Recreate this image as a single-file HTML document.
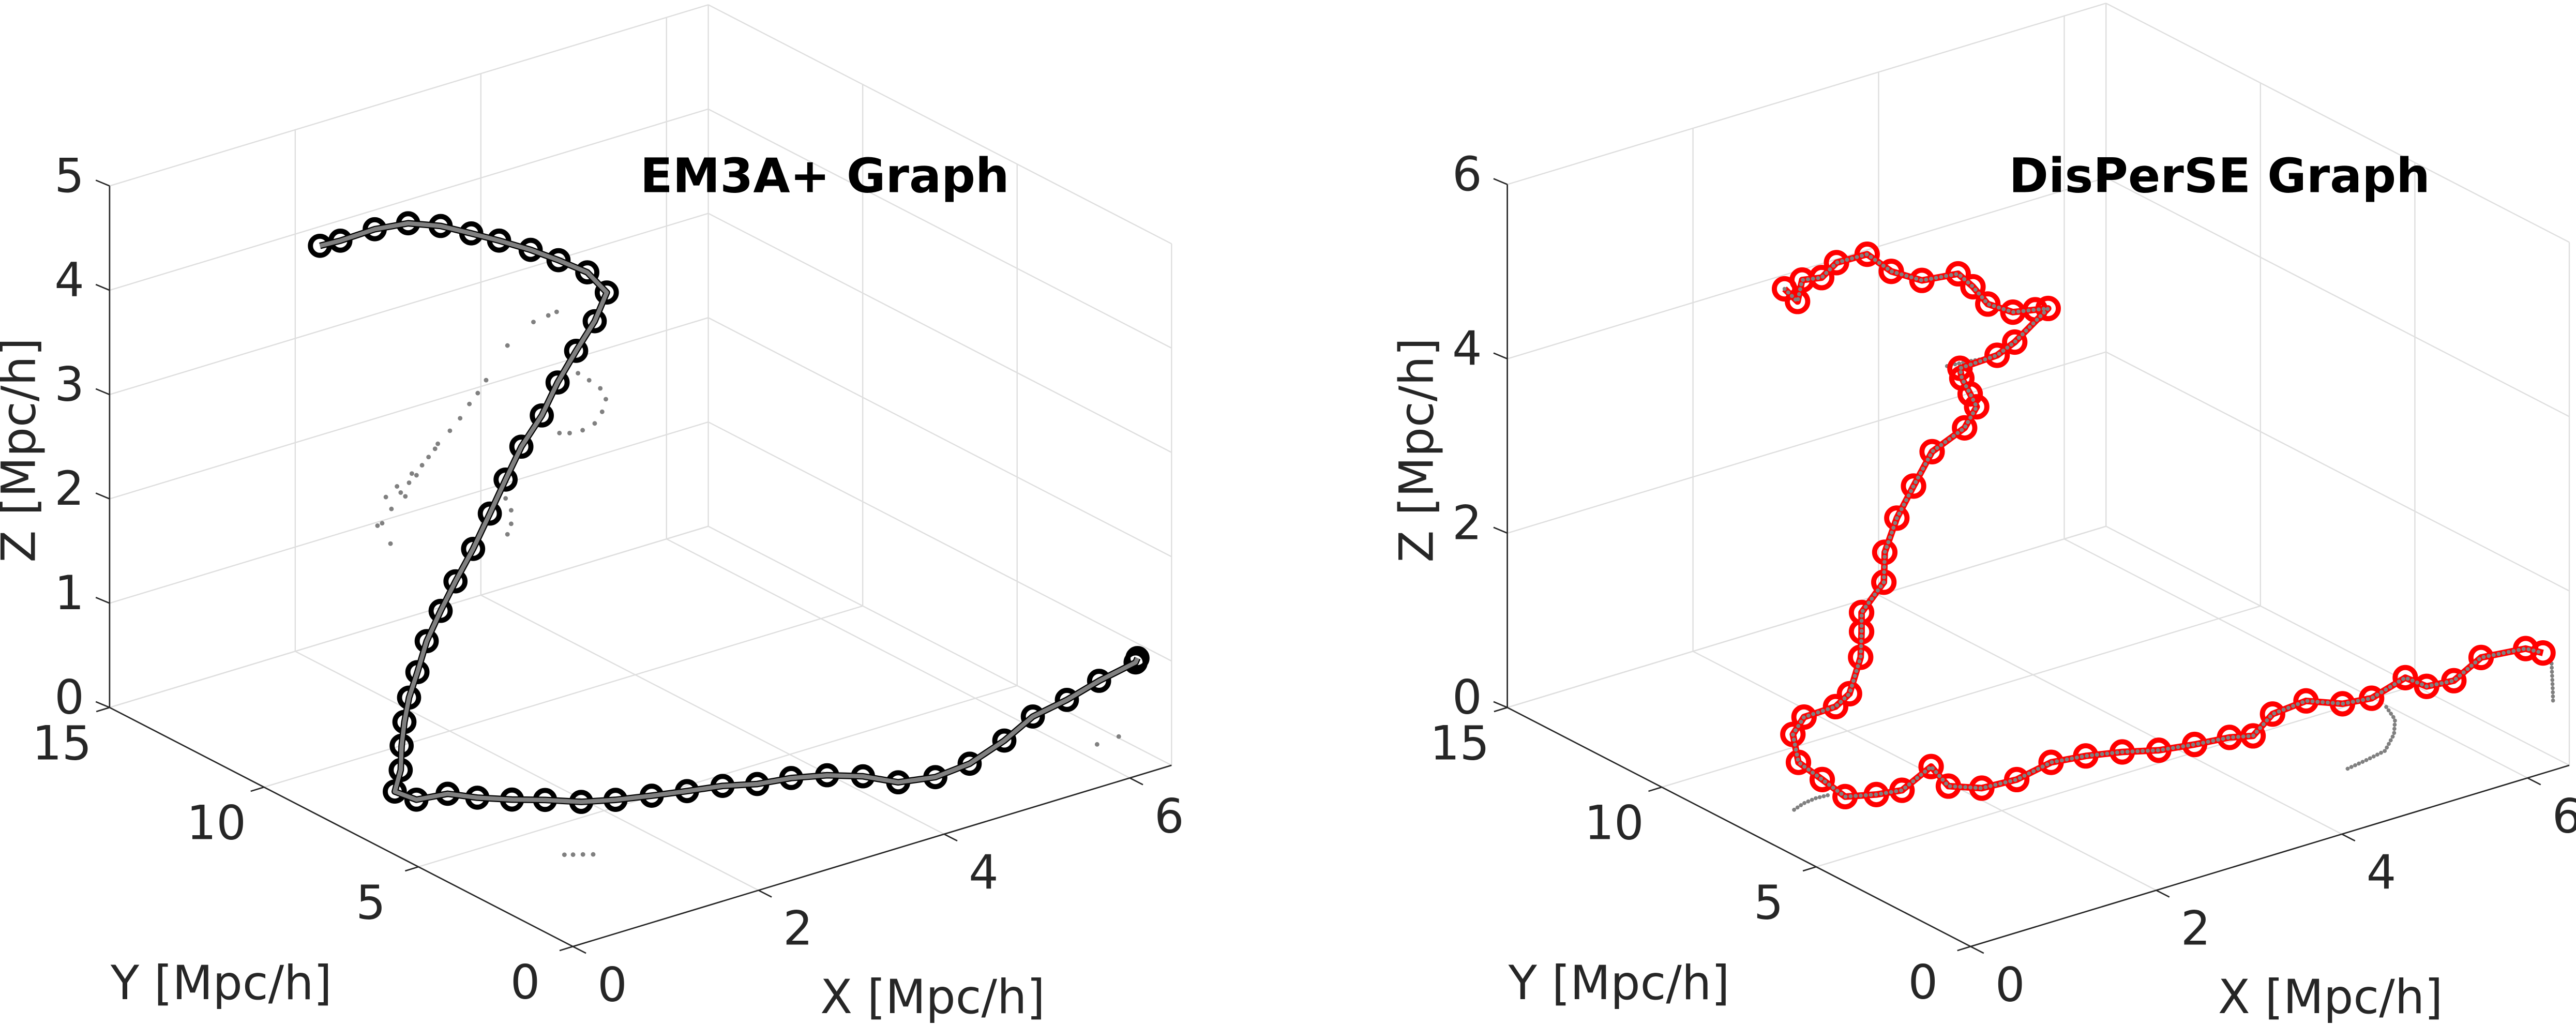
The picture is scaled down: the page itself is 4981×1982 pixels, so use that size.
<!DOCTYPE html>
<html><head><meta charset="utf-8"><style>
html,body{margin:0;padding:0;background:#fff;}
svg{display:block;}
text{font-family:"DejaVu Sans","Liberation Sans",sans-serif;fill:#262626;}
</style></head><body>
<svg id="fig" xmlns="http://www.w3.org/2000/svg" width="4981" height="1982" viewBox="0 0 1568 624" preserveAspectRatio="none">
<g id="left-panel"></g>
<g id="right-panel"></g>
</svg>
<script>
// ---------- data: EM3A+ graph ----------
const leftX = [0.27,0.49,0.86,1.22,1.57,1.90,2.20,2.54,2.84,3.15,3.36,3.23,3.03,2.83,2.66,2.44,2.27,2.10,1.92,1.73,1.57,1.42,1.32,1.23,1.18,1.15,1.14,0.83,0.87,1.16,1.31,1.52,1.74,1.96,2.22,2.52,2.82,3.13,3.39,3.70,3.98,4.21,4.37,4.69,5.10,5.64,6.15,6.60,7.07,7.56,7.63];
const leftY = [9,9,9,9,9,9,9,9,9,9,9,9,9,9,9,9,9,9,9,9,9,9,9,9,9,9,9,8.26,7.68,7.54,7.03,6.54,6.13,5.62,5.29,5.02,4.78,4.56,4.22,4.05,3.73,3.26,2.60,2.36,2.48,2.98,3.59,3.84,4.21,4.50,4.65];
const leftZ = [5.27,5.26,5.27,5.23,5.11,4.95,4.80,4.62,4.44,4.24,3.99,3.75,3.52,3.27,3.00,2.76,2.49,2.21,1.92,1.66,1.42,1.17,0.90,0.68,0.46,0.24,0.01,0,0,0,0,0,0,0,0,0,0,0,0,0,0,0,0,0,0,0,0,0,0,0,0];
const noiseX = [0.94,1.04,1.14,1.23,1.31,1.37,1.44,1.54,1.67,1.78,1.88,1.97,2.06,1.10,0.98,1.26,1.51,1.03,0.89,1.19,3.05,3.17,3.29,3.35,3.31,3.23,3.10,2.96,2.85,2.27,2.33,2.33,2.29,2.57,2.73,2.82,2.29,1.15,1.21,1.28,1.35,6.22,6.47];
const noiseY = [9,9,9,9,9,9,9,9,9,9,9,9,9,9,9,9,9,9,9,9,9,9,9,9,9,9,9,9,9,9,9,9,9,9,9,9,9,3.73,3.63,3.52,3.40,1.72,1.77];
const noiseZ = [2.43,2.54,2.67,2.74,2.79,2.87,2.93,3.03,3.12,3.21,3.32,3.40,3.50,2.74,2.67,2.82,2.99,2.21,2.42,2.62,3.30,3.20,3.09,2.97,2.86,2.77,2.74,2.75,2.78,2.31,2.18,2.05,1.96,3.92,3.94,3.95,3.77,0,0,0,0,0,0];
// ---------- data: DisPerSE graph ----------
const rightX = [0.99,1.13,1.18,1.39,1.55,1.88,2.14,2.47,2.86,3.02,3.18,3.45,3.69,3.83,3.47,3.28,2.88,2.90,2.99,3.06,2.93,2.58,2.38,2.20,2.07,2.06,1.82,1.82,1.81,1.69,1.54,1.20,1.08,1.14,1.19,1.12,1.36,1.59,2.10,1.96,2.16,2.51,2.97,3.29,3.59,3.86,4.18,4.51,4.69,5.11,5.51,5.72,5.99,6.49,6.52,6.78,7.27,7.69,7.75];
const rightY = [9,9,9,9,9,9,9,9,9,9,9,9,9,9,9,9,9,9,9,9,9,9,9,9,9,9,9,9,9,9,9,9,9,9,8.38,7.43,7.14,7.00,7.59,6.61,6.13,6.05,6.32,6.16,5.88,5.51,5.31,5.17,4.95,5.58,5.70,5.15,5.02,5.43,4.83,4.73,5.32,5.14,4.76];
const rightZ = [5.58,5.39,5.62,5.58,5.70,5.69,5.41,5.20,5.15,4.95,4.70,4.52,4.47,4.44,4.17,4.08,4.06,3.94,3.73,3.56,3.36,3.20,2.87,2.56,2.21,1.87,1.60,1.38,1.09,0.71,0.61,0.60,0.44,0.10,0,0,0,0,0,0,0,0,0,0,0,0,0,0,0,0,0,0,0,0,0,0,0,0,0];
const branchX = [0.60,0.75,0.90,1.03,4.90,5.13,5.39,5.67,5.87,5.98,7.67,7.50,7.33,7.18,2.74,2.97,3.18];
const branchY = [7.52,7.66,7.72,7.69,2.52,2.63,2.78,3.33,3.90,4.53,4.24,3.71,3.18,2.72,9,9,9];
const branchZ = [0,0,0,0,0,0,0,0,0,0,0,0,0,0,4.13,4.11,4.08];
const branchGroup = [0,0,0,0,1,1,1,1,1,1,2,2,2,2,3,3,3];
// ---------- ticks ----------
const xTicks = [0,2,4,6];
const yTicks = [0,5,10,15];
const leftZTicks = [0,1,2,3,4,5];
const rightZTicks = [0,2,4,6];

const NS = 'http://www.w3.org/2000/svg';
function mk(tag, attrs, parent) {
  const e = document.createElementNS(NS, tag);
  for (const k in attrs) e.setAttribute(k, attrs[k]);
  parent.appendChild(e);
  return e;
}
function makeAxes(ox, oy, zUnit, xmax, ymax, zmax) {
  const P = (x, y, z) => [ox + 56.5 * x - 18.8 * y, oy - 17.1 * x - 9.7 * y - zUnit * z];
  return {P, xmax, ymax, zmax};
}
function line(g, a, b, stroke, w, name) {
  const l = mk('line', {x1: a[0], y1: a[1], x2: b[0], y2: b[1], stroke: stroke, 'stroke-width': w}, g);
  
  
  return l;
}
function text(g, x, y, str, size, name, extra) {
  const t = mk('text', Object.assign({x: x, y: y, 'font-size': size, 'text-anchor': 'middle', 'dominant-baseline': 'central'}, extra || {}), g);
  t.textContent = str;
  
  
  return t;
}
function drawFrame(g, ax, zTicks, title, titleX) {
  const {P, xmax, ymax, zmax} = ax;
  const grid = '#dedede', gw = 0.75;
  xTicks.forEach(x => line(g, P(x, ymax, 0), P(x, ymax, zmax), grid, gw, 'grid-line-x'));
  zTicks.forEach(z => line(g, P(0, ymax, z), P(xmax, ymax, z), grid, gw, 'grid-line-z'));
  yTicks.forEach(y => line(g, P(xmax, y, 0), P(xmax, y, zmax), grid, gw, 'grid-line-y'));
  zTicks.forEach(z => line(g, P(xmax, 0, z), P(xmax, ymax, z), grid, gw, 'grid-line-z'));
  xTicks.forEach(x => line(g, P(x, 0, 0), P(x, ymax, 0), grid, gw, 'grid-line-x'));
  yTicks.forEach(y => line(g, P(0, y, 0), P(xmax, y, 0), grid, gw, 'grid-line-y'));
  const ac = '#262626', aw = 0.85;
  line(g, P(0, 0, 0), P(xmax, 0, 0), ac, aw, 'x-axis-line');
  line(g, P(0, 0, 0), P(0, ymax, 0), ac, aw, 'y-axis-line');
  line(g, P(0, ymax, 0), P(0, ymax, zmax), ac, aw, 'z-axis-line');
  xTicks.forEach(x => {
    const p = P(x, 0, 0);
    line(g, p, [p[0] + 8, p[1] + 4.1], ac, aw, 'x-tick');
    text(g, p[0] + 24, p[1] + 23.5, String(x), 28.5, 'x-tick-label');
  });
  yTicks.forEach(y => {
    const p = P(0, y, 0);
    line(g, p, [p[0] - 8.1, p[1] + 2.5], ac, aw, 'y-tick');
    text(g, p[0] - 29, p[1] + 22, String(y), 28.5, 'y-tick-label');
  });
  zTicks.forEach(z => {
    const p = P(0, ymax, z);
    line(g, p, [p[0] - 8.4, p[1] - 3.5], ac, aw, 'z-tick');
    text(g, p[0] - 24.5, p[1] - 6, String(z), 28.5, 'z-tick-label');
  });
  const o = P(0, 0, 0), zb = P(0, ymax, 0);
  text(g, o[0] + 219, o[1] + 31, 'X [Mpc/h]', 28.5, 'x-axis-title');
  text(g, o[0] - 214, o[1] + 22.5, 'Y [Mpc/h]', 28.5, 'y-axis-title');
  text(g, zb[0] - 55, 274, 'Z [Mpc/h]', 28.5, 'z-axis-title', {transform: 'rotate(-90 ' + (zb[0] - 55) + ' 274)'});
  text(g, titleX, 107, title, 29, 'chart-title', {'font-weight': 'bold', style: 'fill:#000'});
}
function pts(ax, X, Y, Z) { return X.map((x, i) => ax.P(x, Y[i], Z[i])); }

// ---------- left panel ----------
const gL = document.getElementById('left-panel');
const axL = makeAxes(348.7, 576.2, 63.5, 6.45, 15, 5);
drawFrame(gL, axL, leftZTicks, 'EM3A+ Graph', 502);
pts(axL, noiseX, noiseY, noiseZ).forEach(p => {
  const c = mk('circle', {cx: p[0], cy: p[1], r: 1.4, fill: '#808080'}, gL);
  
  
});
const lp = pts(axL, leftX, leftY, leftZ);
const lpStr = lp.map(p => p[0].toFixed(2) + ',' + p[1].toFixed(2)).join(' ');
const blk = mk('polyline', {points: lpStr, fill: 'none', stroke: '#000', 'stroke-width': 4, 'stroke-linejoin': 'round'}, gL);


lp.forEach(p => {
  const c = mk('circle', {cx: p[0], cy: p[1], r: 5.8, fill: 'none', stroke: '#000', 'stroke-width': 3.1}, gL);
  
  
});
const gry = mk('polyline', {points: lpStr, fill: 'none', stroke: '#808080', 'stroke-width': 2.6, 'stroke-linejoin': 'round'}, gL);



// ---------- right panel ----------
const gR = document.getElementById('right-panel');
const axR = makeAxes(1199.5, 576.2, 53.07, 6.45, 15, 6);
drawFrame(gR, axR, rightZTicks, 'DisPerSE Graph', 1351);
const bp = pts(axR, branchX, branchY, branchZ);
[0, 1, 2, 3].forEach(gi => {
  const s = bp.filter((p, i) => branchGroup[i] === gi).map(p => p[0].toFixed(2) + ',' + p[1].toFixed(2)).join(' ');
  const pl = mk('polyline', {points: s, fill: 'none', stroke: '#808080', 'stroke-width': 2.4, 'stroke-linecap': 'round', 'stroke-dasharray': '0.1 2.4'}, gR);
  
  
});
const rp = pts(axR, rightX, rightY, rightZ);
const rpStr = rp.map(p => p[0].toFixed(2) + ',' + p[1].toFixed(2)).join(' ');
const red = mk('polyline', {points: rpStr, fill: 'none', stroke: '#ff0000', 'stroke-width': 4, 'stroke-linejoin': 'round'}, gR);


rp.forEach(p => {
  const c = mk('circle', {cx: p[0], cy: p[1], r: 6.2, fill: 'none', stroke: '#ff0000', 'stroke-width': 3.1}, gR);
  
  
});
const gr2 = mk('polyline', {points: rpStr, fill: 'none', stroke: '#808080', 'stroke-width': 2.4, 'stroke-linecap': 'round', 'stroke-dasharray': '0.1 3'}, gR);


</script>
</body></html>
